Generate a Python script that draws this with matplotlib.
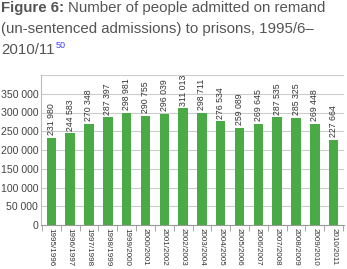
import matplotlib
matplotlib.use("Agg")
import matplotlib.pyplot as plt
import numpy as np

categories = ["1995/1996", "1996/1997", "1997/1998", "1998/1999", "1999/2000",
              "2000/2001", "2001/2002", "2002/2003", "2003/2004", "2004/2005",
              "2005/2006", "2006/2007", "2007/2008", "2008/2009", "2009/2010",
              "2010/2011"]
values = [231980, 244583, 270348, 287397, 298981, 290755, 296039, 311013,
          298711, 276534, 259089, 269645, 287535, 285325, 269448, 227664]
yticks = [0, 50000, 100000, 150000, 200000, 250000, 300000, 350000, 400000]

def fmt(v):
    return f"{v:,}".replace(",", " ")

plt.rcParams['font.family'] = ['Liberation Sans', 'DejaVu Sans']
fig = plt.figure(figsize=(3.47, 2.69), dpi=100)
W, H = 347, 269
ax = fig.add_axes([41 / W, 1 - 225 / H, (344 - 41) / W, (225 - 75) / H])

x = np.arange(len(categories))
green = "#4aab46"
ax.bar(x, values, width=0.5, color=green, zorder=3)
for xi, v in zip(x, values):
    ax.text(xi, v + 7000, fmt(v), rotation=90, ha="center", va="bottom",
            fontsize=6.3, color="#333333")

ax.set_ylim(0, 400000)
ax.set_xlim(-0.55, len(categories) - 0.45)
ax.set_yticks(yticks)
ax.set_yticklabels([fmt(v) if v < 400000 else "" for v in yticks],
                   fontsize=7.6, color="#444444")
ax.tick_params(axis="y", length=0, pad=2)
ax.grid(axis="y", color="#cccccc", linewidth=0.8, zorder=0)

ax.set_xticks(x)
ax.set_xticklabels(categories, rotation=270, fontsize=5.8, color="#333333")
ax.tick_params(axis="x", length=0, pad=2)
ax.set_xticks(np.arange(len(categories) + 1) - 0.5, minor=True)
ax.tick_params(axis="x", which="minor", length=4, color="#999999")

for s in ["top", "right"]:
    ax.spines[s].set_visible(False)
ax.spines["left"].set_color("#bbbbbb")
ax.spines["bottom"].set_color("#999999")

tc = "#555555"
fs = 10.8
renderer = fig.canvas.get_renderer()
t1 = fig.text(1 / W, 1 - 8 / H, "Figure 6:", fontsize=fs, fontweight="bold",
              color=tc, va="center", ha="left")
bb = t1.get_window_extent(renderer)
fig.text((bb.x1 + 4) / W, 1 - 8 / H, "Number of people admitted on remand",
         fontsize=fs, color=tc, va="center", ha="left")
fig.text(1 / W, 1 - 29 / H, "(un-sentenced admissions) to prisons, 1995/6\u2013",
         fontsize=fs, color=tc, va="center", ha="left")
t3 = fig.text(1 / W, 1 - 50 / H, "2010/11", fontsize=fs, color=tc,
              va="center", ha="left")
bb3 = t3.get_window_extent(renderer)
fig.text((bb3.x1 + 1) / W, 1 - 46 / H, "50", fontsize=6.5, color="#4040ff",
         va="center", ha="left")

fig.savefig("out.png", dpi=100)
